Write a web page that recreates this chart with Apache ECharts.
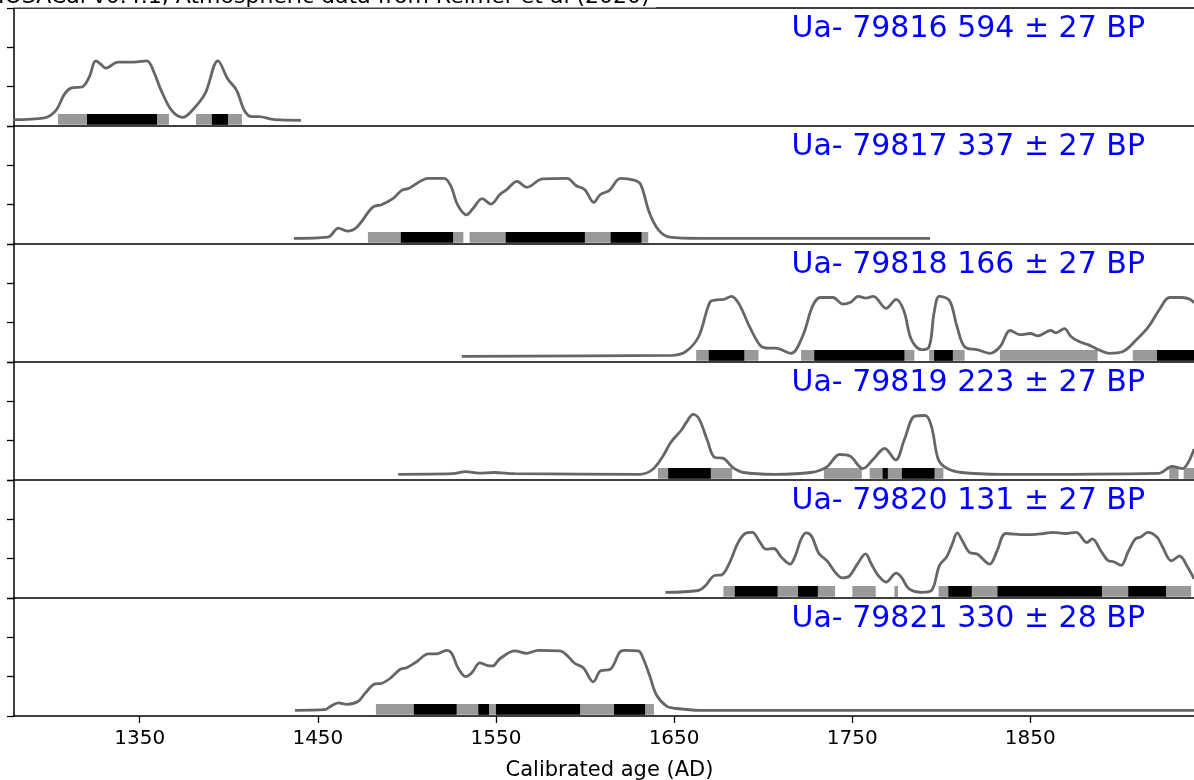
<!DOCTYPE html>
<html><head><meta charset="utf-8">
<script src="https://cdn.jsdelivr.net/npm/echarts@6/dist/echarts.min.js"></script>
<style>html,body{margin:0;padding:0;background:#fff}#c{width:1194px;height:780px}</style>
</head><body><div id="c"></div>
<script>
// ---- data ----
const titleText = 'IOSACal v0.4.1, Atmospheric data from Reimer et al (2020)';
const xLabelText = 'Calibrated age (AD)';
const xTicks = [1350, 1450, 1550, 1650, 1750, 1850];
const xTickLabels = ['1350', '1450', '1550', '1650', '1750', '1850'];
const sampleLabels = [
  'Ua- 79816 594 ± 27 BP',
  'Ua- 79817 337 ± 27 BP',
  'Ua- 79818 166 ± 27 BP',
  'Ua- 79819 223 ± 27 BP',
  'Ua- 79820 131 ± 27 BP',
  'Ua- 79821 330 ± 28 BP'
];
// calibrated probability (normalised to peak = 1): [year AD, probability]
const curve1 = [[1279,0.01],[1296.5,0.04],[1302.8,0.16],[1307.8,0.44],[1311.6,0.54],[1317.9,0.56],[1321.6,0.72],[1325.4,0.99],[1327.9,0.94],[1331,0.87],[1337.8,0.97],[1346.7,0.97],[1354,0.99],[1358,0.80],[1361.7,0.52],[1368,0.16],[1374.3,0.05],[1379.3,0.16],[1386.6,0.44],[1393.9,0.99],[1399.4,0.69],[1404.4,0.50],[1408.8,0.16],[1413,0.06],[1416.9,0.06],[1425.6,0.01],[1440.5,0]];
const curve2 = [[1436.5,0],[1455.7,0.02],[1461.5,0.17],[1466.5,0.12],[1472,0.19],[1480.8,0.52],[1485.8,0.56],[1492.1,0.66],[1497.1,0.80],[1500.9,0.83],[1512.2,1.0],[1520.9,1.0],[1524.7,0.87],[1528.4,0.56],[1533.4,0.39],[1537.2,0.50],[1542.2,0.66],[1547.2,0.57],[1552.2,0.73],[1556,0.81],[1561.8,0.95],[1567.3,0.85],[1576.1,0.99],[1589.9,1.0],[1594.9,0.88],[1599.9,0.81],[1604.9,0.60],[1608.6,0.73],[1613.7,0.80],[1619.9,1.0],[1627.5,0.97],[1631.2,0.90],[1636.2,0.42],[1641.2,0.14],[1647.5,0.02],[1664.5,0],[1793.7,0]];
const curve3 = [[1530.8,0],[1649.6,0.017],[1656.7,0.08],[1663.8,0.33],[1670.1,0.90],[1673.8,0.94],[1678,0.95],[1682.3,1.0],[1686.5,0.87],[1692.3,0.50],[1698.5,0.175],[1703.1,0.136],[1707,0.136],[1715.6,0.05],[1722.1,0.33],[1727.8,0.84],[1732.1,0.98],[1739.2,0.98],[1744.8,0.87],[1749.1,0.90],[1753.4,1.0],[1757.6,0.97],[1761.9,1.0],[1769,0.80],[1774.7,0.95],[1779,0.76],[1783.2,0.28],[1788.9,0.11],[1793.2,0.16],[1796,0.73],[1798.9,1.0],[1804.6,0.93],[1808.8,0.50],[1813.1,0.16],[1820.2,0.11],[1827.3,0.05],[1833,0.16],[1838.7,0.43],[1844.4,0.36],[1850.1,0.38],[1854.3,0.34],[1861.4,0.43],[1864.3,0.39],[1869.1,0.46],[1872.8,0.33],[1877.1,0.25],[1882.7,0.19],[1888.4,0.11],[1894.1,0.05],[1902.1,0.08],[1909.7,0.28],[1916.3,0.49],[1922.5,0.78],[1928.2,0.98],[1935.3,0.98],[1939.6,0.95],[1941.9,0.89]];
const curve4 = [[1495.1,0],[1525.7,0.01],[1533,0.045],[1540.3,0.02],[1549,0.03],[1560.7,0.01],[1630.6,0],[1637.9,0.08],[1643.8,0.305],[1648.1,0.53],[1653.9,0.73],[1656.8,0.86],[1660.7,1.0],[1664.1,0.92],[1668.5,0.58],[1672.9,0.28],[1677.3,0.27],[1683.1,0.11],[1689,0.03],[1706.4,0],[1726.8,0.03],[1735.6,0.12],[1742.9,0.33],[1748.7,0.305],[1756,0.095],[1761.8,0.25],[1768.2,0.43],[1774.4,0.24],[1779.3,0.58],[1785.2,0.97],[1791,0.98],[1794.5,0.80],[1798.3,0.25],[1802.6,0.11],[1811.4,0.03],[1834.7,0],[1922.2,0.017],[1929.5,0.13],[1935.3,0.095],[1941.9,0.42]];
const curve5 = [[1645.1,0],[1663.6,0.03],[1667.6,0.11],[1672.7,0.28],[1676.7,0.29],[1680.8,0.47],[1685.8,0.82],[1689.9,0.98],[1693.9,1.0],[1697.9,0.85],[1701.6,0.72],[1706,0.73],[1710.1,0.59],[1715.1,0.47],[1718.2,0.62],[1721.2,0.88],[1724.2,0.99],[1727.3,0.93],[1731.2,0.65],[1735.9,0.525],[1740.3,0.34],[1744.4,0.24],[1748.4,0.27],[1752.9,0.47],[1757.5,0.64],[1760.6,0.48],[1764.6,0.28],[1769,0.17],[1774.7,0.32],[1777.7,0.25],[1781.8,0.06],[1788.9,0],[1794.5,0.03],[1799,0.45],[1803,0.59],[1806,0.79],[1809,0.99],[1812,0.85],[1816.1,0.66],[1820.1,0.64],[1827.2,0.47],[1831.2,0.68],[1836.3,0.98],[1847.4,0.96],[1857.5,0.98],[1862.6,1.0],[1869.7,0.98],[1875.7,1.0],[1881.7,0.83],[1884.8,0.89],[1889.8,0.68],[1893.9,0.525],[1896.9,0.51],[1900.9,0.45],[1905,0.68],[1909,0.89],[1912,0.92],[1916.1,1.0],[1921.1,0.92],[1924.2,0.76],[1929.2,0.525],[1933.8,0.605],[1938.3,0.42],[1941.9,0.225]];
const curve6 = [[1437.1,0],[1454,0.01],[1456.8,0.06],[1461.5,0.125],[1466.2,0.10],[1472.7,0.15],[1476.4,0.28],[1482.1,0.44],[1485.8,0.45],[1490.5,0.53],[1496.1,0.68],[1499.9,0.71],[1505.5,0.81],[1512,0.94],[1516.7,0.94],[1522.3,1.0],[1525.1,0.95],[1528.8,0.70],[1533.2,0.56],[1536.4,0.625],[1541,0.79],[1544.8,0.75],[1548.1,0.74],[1552.2,0.86],[1560.7,0.99],[1567.2,0.95],[1573.8,1.0],[1586,0.99],[1589.7,0.92],[1594.4,0.78],[1599,0.71],[1604.6,0.475],[1608.8,0.66],[1614,0.68],[1619.6,0.975],[1622.4,1.0],[1629.9,0.99],[1632.7,0.86],[1636.5,0.56],[1640.2,0.25],[1645.8,0.07],[1651.5,0.03],[1664.5,0],[1941.9,0]];
// 95.4% (grey) and 68.2% (black) ranges, [from, to] in years AD
const sigma2_1 = [[1304.1,1366.4],[1381.6,1407.4]];
const sigma1_1 = [[1320.4,1359.7],[1390.5,1399.5]];
const sigma2_2 = [[1478.1,1531.7],[1535.2,1635.5]];
const sigma1_2 = [[1496.6,1525.9],[1555.5,1599.9],[1614.4,1631.7]];
const sigma2_3 = [[1662.4,1697.4],[1721.3,1784.9],[1793.2,1813.1],[1833,1887.8],[1907.5,1950]];
const sigma1_3 = [[1669.5,1689.4],[1728.7,1779.3],[1796,1806.5],[1921.1,1950]];
const sigma2_4 = [[1640.9,1682.6],[1734.1,1755.4],[1759.8,1801.2],[1928,1933.2],[1936.1,1950]];
const sigma1_4 = [[1646.7,1670.6],[1767.1,1770],[1777.9,1796.2]];
const sigma2_5 = [[1677.7,1740.4],[1750.1,1763.2],[1773.7,1775.7],[1798.5,1940.3]];
const sigma1_5 = [[1684.1,1708.1],[1719.6,1730.7],[1804,1817.1],[1831.6,1890.2],[1905,1926.2]];
const sigma2_6 = [[1482.6,1638.7]];
const sigma1_6 = [[1503.9,1527.9],[1540.1,1546.1],[1550,1597.2],[1616.3,1633.7]];

// ---- layout / style ----
const curves = [curve1, curve2, curve3, curve4, curve5, curve6];
const sig2 = [sigma2_1, sigma2_2, sigma2_3, sigma2_4, sigma2_5, sigma2_6];
const sig1 = [sigma1_1, sigma1_2, sigma1_3, sigma1_4, sigma1_5, sigma1_6];
const X_MIN = 1279.4, X_MAX = 1941.9;
const PANEL_TOP = 8, PANEL_H = 118, LEFT = 14;
const BASE = 0.145, SCALE = 1.525, BAR_LO = 0.03, BAR_HI = 0.305;
const FONT = 'DejaVu Sans';

const grids = [], xAxes = [], yAxes = [], series = [], graphics = [];
for (let i = 0; i < 6; i++) {
  const last = i === 5;
  grids.push({ left: LEFT, right: 0, top: PANEL_TOP + PANEL_H * i, height: PANEL_H });
  xAxes.push({
    type: 'value', gridIndex: i, min: X_MIN, max: X_MAX,
    axisLine: { show: true, onZero: false, lineStyle: { color: '#000', width: 1.5 } },
    axisTick: { show: last, length: 7, lineStyle: { color: '#000', width: 1.3 }, customValues: xTicks },
    axisLabel: { show: last, customValues: xTicks, color: '#000', fontFamily: FONT, fontSize: 20, margin: 13,
      formatter: v => xTickLabels[xTicks.indexOf(v)] ?? String(v) },
    splitLine: { show: false }
  });
  yAxes.push({
    type: 'value', gridIndex: i, min: 0, max: 3, interval: 1,
    axisLine: { show: true, lineStyle: { color: '#000', width: 1.5 } },
    axisTick: { show: true, length: 7, lineStyle: { color: '#000', width: 1.3 } },
    axisLabel: { show: false }, splitLine: { show: false }
  });
  const barRender = (color) => function (params, api) {
    const s = api.coord([api.value(0), BAR_LO]);
    const e = api.coord([api.value(1), BAR_HI]);
    return { type: 'rect', shape: { x: s[0], y: e[1], width: e[0] - s[0], height: s[1] - e[1] }, style: { fill: color } };
  };
  series.push({
    type: 'custom', xAxisIndex: i, yAxisIndex: i, clip: true, silent: true,
    dimensions: ['from', 'to'], encode: { x: [0, 1] },
    renderItem: barRender('#999999'), data: sig2[i], z: 2
  });
  series.push({
    type: 'custom', xAxisIndex: i, yAxisIndex: i, clip: true, silent: true,
    dimensions: ['from', 'to'], encode: { x: [0, 1] },
    renderItem: barRender('#000000'), data: sig1[i], z: 3
  });
  series.push({
    type: 'line', xAxisIndex: i, yAxisIndex: i, clip: true, silent: true,
    data: curves[i].map(p => [p[0], BASE + p[1] * SCALE]),
    smooth: 0.35, showSymbol: false, symbol: 'none',
    lineStyle: { color: '#666666', width: 2.8 }, z: 4
  });
  graphics.push({
    type: 'text', z: 100,
    style: { text: sampleLabels[i], x: 1145, y: PANEL_TOP + PANEL_H * i + 21.5, textAlign: 'right', textVerticalAlign: 'middle',
      font: '30px "' + FONT + '"', fill: '#0000ff' }
  });
}
// top spine of the first panel
xAxes.push({
  type: 'value', gridIndex: 0, min: X_MIN, max: X_MAX, position: 'top',
  axisLine: { show: true, onZero: false, lineStyle: { color: '#000', width: 1.5 } },
  axisTick: { show: false }, axisLabel: { show: false }, splitLine: { show: false }
});
graphics.push({ type: 'rect', z: 100, shape: { x: 0, y: 0, width: 656, height: 7.6 }, style: { fill: '#fff' } });
graphics.push({ type: 'text', z: 101, style: { text: titleText, x: -2, y: -2.5, textAlign: 'left', textVerticalAlign: 'middle', font: '22px "' + FONT + '"', fill: '#000' } });
graphics.push({ type: 'text', z: 101, style: { text: xLabelText, x: 609.5, y: 771, textAlign: 'center', textVerticalAlign: 'middle', font: '21px "' + FONT + '"', fill: '#000' } });

const chart = echarts.init(document.getElementById('c'), null, { renderer: 'canvas' });
chart.setOption({
  animation: false, backgroundColor: '#fff',
  grid: grids, xAxis: xAxes, yAxis: yAxes, series: series, graphic: graphics
});
</script>
</body></html>
